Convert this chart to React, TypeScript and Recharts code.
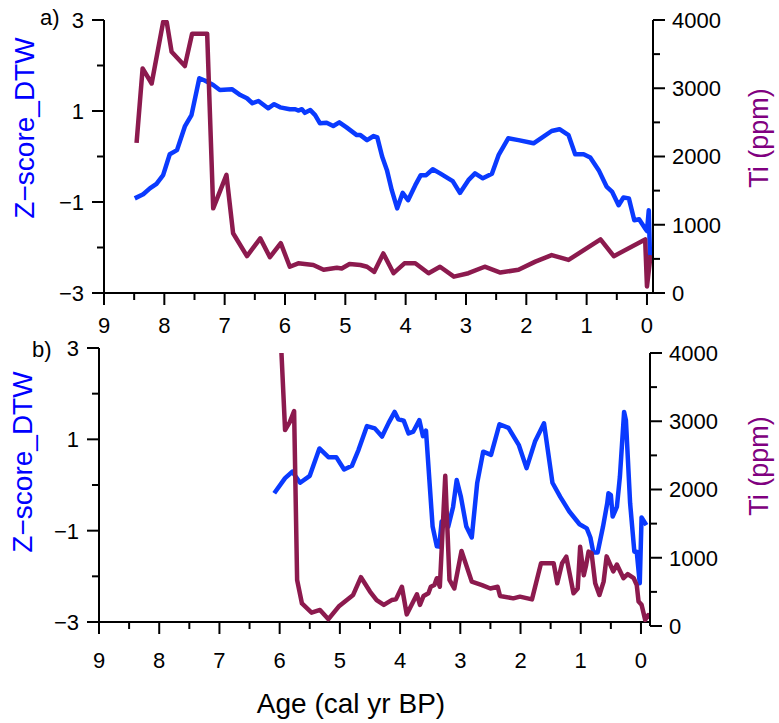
import { LineChart, Line, XAxis, YAxis } from 'recharts';

const W = 779;
const H = 723;
const FONT = '"Liberation Sans", Arial, Helvetica, sans-serif';
const BLUE = '#0a3aff';
const MAROON = '#8c1a4e';
const PURPLE = '#800080';

// panel a) Z-score_DTW
const ageZA = [8.49, 8.35, 8.24, 8.13, 8.02, 7.91, 7.79, 7.66, 7.55, 7.42, 7.33, 7.19, 7.08, 6.88, 6.74, 6.63, 6.54, 6.44, 6.28, 6.18, 6.08, 5.92, 5.83, 5.78, 5.72, 5.67, 5.58, 5.5, 5.42, 5.31, 5.2, 5.1, 4.98, 4.81, 4.75, 4.64, 4.53, 4.47, 4.39, 4.31, 4.23, 4.14, 4.05, 3.96, 3.84, 3.75, 3.66, 3.55, 3.43, 3.22, 3.1, 2.96, 2.85, 2.72, 2.57, 2.46, 2.3, 2.13, 1.88, 1.71, 1.58, 1.45, 1.3, 1.19, 1.05, 0.94, 0.8, 0.67, 0.58, 0.47, 0.39, 0.3, 0.21, 0.13, 0.03, 0.0, -0.03, -0.05];
const zA = [-0.92, -0.83, -0.7, -0.6, -0.41, 0.05, 0.14, 0.66, 0.91, 1.72, 1.67, 1.57, 1.46, 1.48, 1.35, 1.28, 1.17, 1.22, 1.06, 1.15, 1.08, 1.04, 1.04, 1.01, 1.04, 0.96, 1.02, 0.91, 0.73, 0.74, 0.67, 0.75, 0.64, 0.47, 0.47, 0.36, 0.45, 0.42, 0.0, -0.3, -0.74, -1.14, -0.8, -0.96, -0.63, -0.41, -0.41, -0.28, -0.37, -0.54, -0.8, -0.52, -0.37, -0.48, -0.38, 0.03, 0.4, 0.36, 0.29, 0.44, 0.56, 0.6, 0.47, 0.05, 0.05, -0.02, -0.3, -0.66, -0.77, -1.07, -0.9, -0.92, -1.4, -1.38, -1.58, -1.64, -1.18, -2.2];

// panel a) Ti (ppm)
const ageTiA = [8.46, 8.36, 8.21, 8.02, 7.96, 7.88, 7.66, 7.54, 7.29, 7.19, 6.97, 6.86, 6.63, 6.41, 6.25, 6.07, 5.92, 5.78, 5.53, 5.36, 5.14, 5.06, 4.93, 4.75, 4.64, 4.52, 4.37, 4.2, 4.02, 3.84, 3.62, 3.43, 3.2, 2.96, 2.69, 2.43, 2.13, 1.85, 1.58, 1.3, 0.77, 0.55, 0.03, 0.0, -0.06];
const tiA = [2200, 3290, 3070, 3970, 3970, 3535, 3325, 3800, 3800, 1240, 1730, 875, 540, 800, 525, 730, 385, 435, 410, 340, 370, 360, 425, 410, 385, 310, 580, 290, 435, 435, 290, 385, 240, 290, 385, 300, 340, 460, 555, 485, 785, 540, 785, 95, 555];

// panel b) Z-score_DTW
const ageZB = [6.09, 5.91, 5.79, 5.66, 5.5, 5.34, 5.19, 5.06, 4.93, 4.8, 4.69, 4.55, 4.42, 4.3, 4.19, 4.09, 4.03, 3.94, 3.86, 3.78, 3.68, 3.62, 3.57, 3.51, 3.46, 3.39, 3.35, 3.31, 3.2, 3.12, 3.06, 2.99, 2.9, 2.81, 2.72, 2.62, 2.49, 2.35, 2.2, 2.03, 1.9, 1.76, 1.61, 1.47, 1.34, 1.19, 1.02, 0.9, 0.84, 0.79, 0.72, 0.63, 0.56, 0.54, 0.5, 0.47, 0.4, 0.35, 0.28, 0.25, 0.18, 0.11, 0.07, 0.02, -0.01, -0.09];
const zB = [-0.18, 0.15, 0.29, 0.05, 0.2, 0.8, 0.61, 0.61, 0.34, 0.42, 0.77, 1.29, 1.24, 1.06, 1.36, 1.6, 1.44, 1.41, 1.13, 1.17, 1.42, 1.07, 1.19, 0.04, -0.91, -1.34, -1.35, -0.8, -0.91, -0.48, 0.11, -0.26, -0.91, -1.15, 0.04, 0.73, 0.66, 1.33, 1.25, 0.88, 0.37, 0.95, 1.35, 0.05, -0.26, -0.58, -0.86, -0.95, -1.15, -1.48, -1.48, -0.91, -0.4, -0.18, -0.22, -0.69, -0.48, 0.18, 1.6, 1.42, -0.4, -1.46, -1.46, -2.15, -0.71, -0.88];

// panel b) Ti (ppm)
const ageTiB = [5.97, 5.91, 5.83, 5.76, 5.71, 5.63, 5.47, 5.33, 5.19, 5.02, 4.78, 4.65, 4.5, 4.39, 4.27, 4.14, 4.07, 3.97, 3.89, 3.72, 3.67, 3.61, 3.53, 3.49, 3.43, 3.39, 3.34, 3.25, 3.18, 3.1, 2.98, 2.81, 2.64, 2.5, 2.38, 2.34, 2.12, 2.01, 1.81, 1.66, 1.45, 1.39, 1.31, 1.24, 1.12, 1.05, 1.01, 0.95, 0.91, 0.87, 0.82, 0.76, 0.69, 0.62, 0.57, 0.51, 0.46, 0.4, 0.29, 0.22, 0.12, 0.07, 0.04, -0.01, -0.07, -0.12, -0.15];
const tiB = [4000, 2870, 2990, 3150, 675, 330, 195, 235, 100, 285, 455, 715, 505, 380, 310, 380, 390, 575, 170, 465, 310, 440, 480, 575, 600, 700, 575, 2200, 675, 550, 1100, 650, 600, 550, 575, 440, 405, 430, 390, 920, 920, 625, 920, 1015, 480, 550, 1160, 745, 895, 1090, 1065, 625, 455, 650, 1020, 900, 800, 900, 700, 760, 700, 600, 360, 310, 90, 160, 115];

const zTicks = [-3, -2, -1, 0, 1, 2, 3];
const tiTicks = [0, 500, 1000, 1500, 2000, 2500, 3000, 3500, 4000];
const ageTicks = [0, 0.5, 1, 1.5, 2, 2.5, 3, 3.5, 4, 4.5, 5, 5.5, 6, 6.5, 7, 7.5, 8, 8.5, 9];

const rows = (ages: number[], vals: number[]) => ages.map((age, i) => ({ age, v: vals[i] }));

const fmt = (v: number) => (v < 0 ? `\u2212${Math.abs(v)}` : `${v}`);

const TICK_FS = 22;

function ZTick({ x, y, payload }: any) {
  const v = payload.value;
  const major = Math.abs(v) % 2 === 1;
  return (
    <g>
      <line x1={x - (major ? 12 : 7)} x2={x} y1={y} y2={y} stroke="#000" strokeWidth={2} />
      {major && (
        <text x={x - 20} y={y} dy="0.36em" textAnchor="end" fontSize={TICK_FS} fontFamily={FONT} fill="#000">
          {fmt(v)}
        </text>
      )}
    </g>
  );
}

function TiTick({ x, y, payload }: any) {
  const v = payload.value;
  const major = v % 1000 === 0;
  return (
    <g>
      <line x1={x} x2={x + (major ? 12 : 7)} y1={y} y2={y} stroke="#000" strokeWidth={2} />
      {major && (
        <text x={x + 19} y={y} dy="0.36em" textAnchor="start" fontSize={TICK_FS} fontFamily={FONT} fill="#000">
          {v}
        </text>
      )}
    </g>
  );
}

function AgeTick({ x, y, payload, labelDy }: any) {
  const v = payload.value;
  const major = Number.isInteger(v);
  return (
    <g>
      <line x1={x} x2={x} y1={y} y2={y + (major ? 12 : 7)} stroke="#000" strokeWidth={2} />
      {major && (
        <text x={x} y={y + labelDy} textAnchor="middle" fontSize={TICK_FS} fontFamily={FONT} fill="#000">
          {v}
        </text>
      )}
    </g>
  );
}

type PanelProps = {
  plotLeft: number;
  plotRight: number;
  zTop: number;
  zBottom: number;
  tiTop: number;
  tiBottom: number;
  xMin: number;
  labelDy: number;
  zRows: { age: number; v: number }[];
  tiRows: { age: number; v: number }[];
};

const layer = { position: 'absolute', left: 0, top: 0 } as const;
const axisLine = { stroke: '#000', strokeWidth: 2 };

function Panel(p: PanelProps) {
  return (
    <>
      <div style={layer}>
        <LineChart
          width={W}
          height={H}
          margin={{ top: p.zTop, bottom: H - p.zBottom - 50, left: p.plotLeft - 50, right: W - p.plotRight }}
        >
          <XAxis
            xAxisId="x"
            dataKey="age"
            type="number"
            domain={[p.xMin, 9]}
            reversed
            allowDataOverflow
            ticks={ageTicks}
            interval={0}
            height={50}
            tickSize={0}
            tickMargin={0}
            tickLine={false}
            axisLine={axisLine}
            tick={(props: any) => <AgeTick {...props} labelDy={p.labelDy} />}
          />
          <YAxis
            yAxisId="z"
            type="number"
            domain={[-3, 3]}
            ticks={zTicks}
            interval={0}
            width={50}
            tickSize={0}
            tickMargin={0}
            tickLine={false}
            axisLine={axisLine}
            tick={(props: any) => <ZTick {...props} />}
          />
          <Line
            xAxisId="x"
            yAxisId="z"
            data={p.zRows}
            dataKey="v"
            type="linear"
            stroke={BLUE}
            strokeWidth={4.5}
            strokeLinejoin="round"
            dot={false}
            isAnimationActive={false}
          />
        </LineChart>
      </div>
      <div style={layer}>
        <LineChart
          width={W}
          height={H}
          margin={{ top: p.tiTop, bottom: H - p.tiBottom, left: p.plotLeft, right: W - p.plotRight - 50 }}
        >
          <XAxis xAxisId="x" dataKey="age" type="number" domain={[p.xMin, 9]} reversed allowDataOverflow hide />
          <YAxis
            yAxisId="ti"
            orientation="right"
            type="number"
            domain={[0, 4000]}
            allowDataOverflow
            ticks={tiTicks}
            interval={0}
            width={50}
            tickSize={0}
            tickMargin={0}
            tickLine={false}
            axisLine={axisLine}
            tick={(props: any) => <TiTick {...props} />}
          />
          <Line
            xAxisId="x"
            yAxisId="ti"
            data={p.tiRows}
            dataKey="v"
            type="linear"
            stroke={MAROON}
            strokeWidth={4.5}
            strokeLinejoin="round"
            dot={false}
            isAnimationActive={false}
          />
        </LineChart>
      </div>
    </>
  );
}

export default function App() {
  return (
    <div style={{ position: 'absolute', left: 0, top: 0, width: W, height: H, background: '#fff', overflow: 'hidden' }}>
      <svg width={W} height={H} style={layer}>
        <g fontFamily={FONT}>
          <text x={40} y={25} fontSize={22} fill="#000">a)</text>
          <text x={32} y={357} fontSize={22} fill="#000">b)</text>
          <text x={34} y={128} fontSize={28} fill="#0000ff" textAnchor="middle" transform="rotate(-90 34 128)">
            Z{'\u2212'}score_DTW
          </text>
          <text x={32} y={462} fontSize={28} fill="#0000ff" textAnchor="middle" transform="rotate(-90 32 462)">
            Z{'\u2212'}score_DTW
          </text>
          <text x={768} y={138} fontSize={27} fill={PURPLE} textAnchor="middle" transform="rotate(-90 768 138)">
            Ti (ppm)
          </text>
          <text x={768} y={466} fontSize={27} fill={PURPLE} textAnchor="middle" transform="rotate(-90 768 466)">
            Ti (ppm)
          </text>
          <text x={351} y={713} fontSize={28} fill="#000" textAnchor="middle">
            Age (cal yr BP)
          </text>
        </g>
      </svg>
      <Panel
        plotLeft={104}
        plotRight={653}
        zTop={20}
        zBottom={293}
        tiTop={20}
        tiBottom={293}
        xMin={-0.1}
        labelDy={40}
        zRows={rows(ageZA, zA)}
        tiRows={rows(ageTiA, tiA)}
      />
      <Panel
        plotLeft={99}
        plotRight={650}
        zTop={348}
        zBottom={622}
        tiTop={353}
        tiBottom={626}
        xMin={-0.15}
        labelDy={46}
        zRows={rows(ageZB, zB)}
        tiRows={rows(ageTiB, tiB)}
      />
    </div>
  );
}
